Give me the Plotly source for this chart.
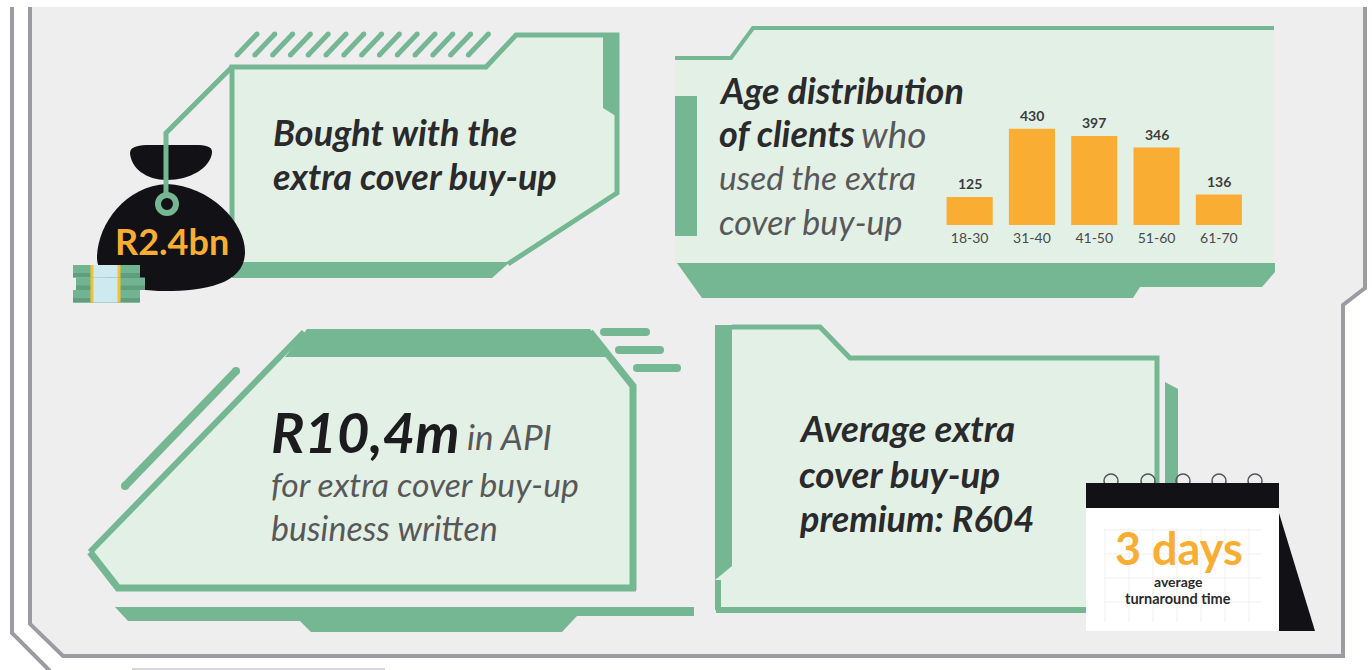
import plotly.graph_objects as go

# Age distribution values
age_groups = ["18-30", "31-40", "41-50", "51-60", "61-70"]
client_counts = [125, 430, 397, 346, 136]

W, H = 1372, 670
GREEN = "#75b793"
PALE = "#e3f0e5"
PANEL = "#eeeeef"
ORANGE = "#f9ae33"
INK = "#111116"
RULE = "#9b9ba2"
DARK = "#2a2a2c"
SOFT = "#58585a"
FONT = "Lato"

shapes = []


def path(points, closed=True):
    d = "M" + " L".join(f"{x},{y}" for x, y in points)
    return d + (" Z" if closed else "")


def add_path(d, fill=None, line=None, width=0):
    shapes.append(dict(
        type="path", xref="x", yref="y", path=d, layer="below",
        fillcolor=fill if fill else "rgba(0,0,0,0)",
        line=dict(color=line if line else "rgba(0,0,0,0)", width=width),
    ))


def poly(points, fill=None, line=None, width=0):
    add_path(path(points), fill, line, width)


def stroke(points, color=GREEN, width=4):
    add_path(path(points, closed=False), None, color, width)


def disc(cx, cy, r, fill=None, line=None, width=0):
    shapes.append(dict(
        type="circle", xref="x", yref="y", layer="below",
        x0=cx - r, x1=cx + r, y0=cy - r, y1=cy + r,
        fillcolor=fill if fill else "rgba(0,0,0,0)",
        line=dict(color=line if line else "rgba(0,0,0,0)", width=width),
    ))


def round_stroke(x0, y0, x1, y1, width):
    stroke([(x0, y0), (x1, y1)], GREEN, width)
    disc(x0, y0, width / 2, GREEN)
    disc(x1, y1, width / 2, GREEN)


# Outer frame
poly([(31, 7), (1364, 7), (1364, 288), (1343, 305), (1343, 656), (63, 656), (31, 624)], PANEL)
stroke([(30, 7), (30, 624), (63, 656), (1343, 656), (1343, 305), (1365, 288), (1365, 7)], RULE, 4)
stroke([(12, 7), (12, 633), (50, 671)], RULE, 4)
stroke([(132, 669), (385, 669)], "#d8d8da", 2)

# Card: amount bought
for i in range(14):
    x = 237 + i * 17.8
    round_stroke(x, 55, x + 20, 34, 5)
poly([(232, 66), (486, 66), (516, 35), (617, 35), (617, 193), (508, 262), (232, 262)], PALE)
stroke([(232, 262), (232, 67), (486, 67), (516, 35), (617, 35), (617, 193), (508, 264)], GREEN, 5)
poly([(603, 33), (619, 33), (619, 118), (603, 108)], GREEN)
poly([(232, 262), (510, 262), (492, 278), (232, 278)], GREEN)

# Money bag
add_path("M130,153 C130,146 140,145 150,145 L195,145 C205,145 213,146 212,153 "
         "C210,168 190,180 167,180 C146,180 131,168 130,153 Z", INK)
add_path("M167,184 C125,186 97,225 97,258 C97,282 130,291 165,291 "
         "C205,291 245,284 245,252 C245,222 210,186 167,184 Z", INK)
stroke([(232, 67), (166, 133), (166, 194)], GREEN, 5)
disc(167, 204, 9, INK, GREEN, 6)

# Banknote stacks
for top, left, right in [(265, 73, 140), (277.5, 76, 145), (290, 73, 140)]:
    poly([(left, top), (right, top), (right, top + 12.5), (left, top + 12.5)], "#72b392")
    poly([(left, top + 8), (right, top + 8), (right, top + 12.5), (left, top + 12.5)], "#5f9f80")
    poly([(93, top), (118, top), (118, top + 12.5), (93, top + 12.5)], "#cfe9f1")
    for band in (92, 119):
        poly([(band - 1.5, top), (band + 1.5, top), (band + 1.5, top + 12.5), (band - 1.5, top + 12.5)], "#f3c233")

# Card: age distribution
poly([(675, 58), (731, 58), (753, 28), (1274, 28), (1274, 264), (675, 264)], PALE)
stroke([(675, 58), (731, 58), (753, 28), (1274, 28)], GREEN, 4)
poly([(675, 96), (697, 96), (697, 236), (675, 236)], GREEN)
poly([(677, 263), (1275, 263), (1275, 272), (1262, 287), (1140, 287), (1133, 298), (702, 298)], GREEN)

# Card: API written
poly([(307, 331), (590, 331), (633, 386), (633, 587), (119, 587), (91, 552)], PALE)
stroke([(90, 552), (304, 332)], GREEN, 6)
poly([(307, 329), (590, 329), (612, 357), (285, 357)], GREEN)
stroke([(590, 332), (633, 386), (633, 590)], GREEN, 7)
stroke([(636, 588), (118, 588), (90, 552)], GREEN, 7)
round_stroke(236, 371, 125, 486, 8)
round_stroke(604, 332, 646, 332, 8)
round_stroke(619, 350, 660, 350, 8)
round_stroke(637, 368, 677, 368, 8)
poly([(115, 607), (694, 607), (694, 616), (577, 616), (562, 632), (311, 632), (300, 621), (128, 621)], GREEN)

# Card: average premium
poly([(717, 327), (820, 327), (850, 358), (1156, 358), (1156, 610), (717, 610)], PALE)
stroke([(718, 610), (718, 580)], GREEN, 6)
stroke([(716, 610), (1090, 610)], GREEN, 6)
stroke([(732, 327), (820, 327), (850, 358), (1157, 358), (1157, 500)], GREEN, 5)
poly([(715, 325), (732, 325), (732, 566), (715, 580)], GREEN)
poly([(1165, 382), (1178, 389), (1178, 490), (1165, 490)], GREEN)

# Desk calendar
for x in (1111, 1148, 1183, 1219, 1255):
    disc(x, 481, 7, None, "#55555a", 1.5)
poly([(1086, 483), (1279, 483), (1279, 631), (1086, 631)], "#ffffff")
for gx in range(1105, 1265, 24):
    stroke([(gx, 528), (gx, 622)], "#f0f0f0", 1)
for gy in range(530, 625, 24):
    stroke([(1105, gy), (1262, gy)], "#f0f0f0", 1)
poly([(1086, 483), (1279, 483), (1279, 508), (1086, 508)], INK)
poly([(1279, 513), (1315, 631), (1279, 631)], INK)


# Text blocks, one annotation per printed line
def label(x, y, text, size, color=DARK, anchor="left"):
    return dict(x=x, y=y, xref="x", yref="y", text=text, showarrow=False,
                xanchor=anchor, yanchor="middle",
                font=dict(family=FONT, size=size, color=color))


annotations = [
    label(271, 132, "<b><i>Bought with the</i></b>", 36),
    label(271, 176, "<b><i>extra cover buy-up</i></b>", 36),
    label(172, 241, "<b>R2.4bn</b>", 36, ORANGE, "center"),
    label(717, 90, "<b><i>Age distribution</i></b>", 36),
    label(717, 133, "<b><i>of clients</i></b>", 36),
    label(859, 133, "<i>who</i>", 37, SOFT),
    label(717, 177, "<i>used the extra</i>", 33.5, SOFT),
    label(717, 221, "<i>cover buy-up</i>", 34, SOFT),
    label(269, 431, "<b><i>R10,4m</i></b>", 56, "#1c1c1e"),
    label(465, 436, "<i>in API</i>", 35, SOFT),
    label(269, 484, "<i>for extra cover buy-up</i>", 33.7, SOFT),
    label(269, 527, "<i>business written</i>", 34, SOFT),
    label(797, 428, "<b><i>Average extra</i></b>", 36.8),
    label(797, 474, "<b><i>cover buy-up</i></b>", 36.8),
    label(797, 518, "<b><i>premium: R604</i></b>", 36),
    label(1179, 548, "<b>3 days</b>", 45, ORANGE, "center"),
    label(1178, 581, "<b>average</b>", 14, DARK, "center"),
    label(1178, 598, "<b>turnaround time</b>", 14.5, DARK, "center"),
]

# Value labels sit just above each bar, on the bar axes
for group, count in zip(age_groups, client_counts):
    annotations.append(dict(
        x=group, y=count, xref="x2", yref="y2", text=f"<b>{count}</b>", showarrow=False,
        xanchor="center", yanchor="bottom", yshift=3,
        font=dict(family=FONT, size=14, color="#3c3c3e"),
    ))

fig = go.Figure()
fig.add_trace(go.Scatter(x=[], y=[], xaxis="x", yaxis="y", hoverinfo="skip", showlegend=False))
fig.add_trace(go.Bar(
    x=age_groups, y=client_counts, width=0.74, xaxis="x2", yaxis="y2",
    marker=dict(color=ORANGE, line=dict(width=0)), hoverinfo="skip",
))

fig.update_layout(
    width=W, height=H, margin=dict(l=0, r=0, t=0, b=0),
    paper_bgcolor="#ffffff", plot_bgcolor="rgba(0,0,0,0)", showlegend=False,
    shapes=shapes, annotations=annotations, font=dict(family=FONT),
    xaxis=dict(domain=[0, 1], range=[0, W], visible=False, anchor="y", fixedrange=True),
    yaxis=dict(domain=[0, 1], range=[H, 0], visible=False, anchor="x", fixedrange=True),
    xaxis2=dict(domain=[938.5 / W, 1250 / W], type="category", showgrid=False, zeroline=False,
                showline=False, ticks="", tickfont=dict(family=FONT, size=14, color="#4a4a4c"),
                ticklabelstandoff=3, anchor="y2", fixedrange=True),
    yaxis2=dict(domain=[1 - 225 / H, 1 - 113 / H], range=[0, 500], visible=False,
                anchor="x2", fixedrange=True),
)

fig.write_html("out.html", config=dict(displayModeBar=False))
